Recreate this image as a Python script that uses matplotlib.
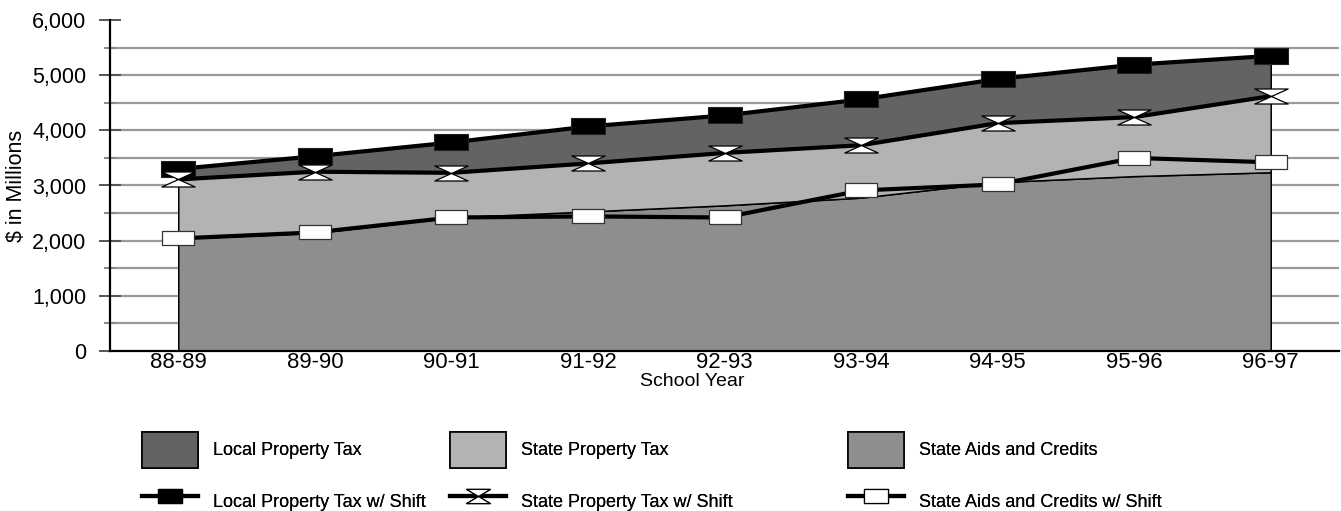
import matplotlib
matplotlib.use("Agg")
import matplotlib.pyplot as plt
from matplotlib.lines import Line2D
from matplotlib.patches import Patch
from matplotlib.path import Path
from matplotlib.ticker import FuncFormatter, MultipleLocator

years = ["88-89", "89-90", "90-91", "91-92", "92-93", "93-94", "94-95", "95-96", "96-97"]

# stacked components ($ millions)
state_aids = [2040, 2140, 2420, 2530, 2640, 2780, 3060, 3170, 3240]
state_prop = [1070, 1110, 810, 870, 950, 950, 1070, 1070, 1380]
local_prop = [190, 280, 550, 670, 680, 830, 800, 950, 730]

# cumulative totals with shift
local_shift = [3300, 3530, 3780, 4070, 4270, 4560, 4930, 5190, 5350]
state_shift = [3110, 3250, 3230, 3400, 3590, 3730, 4130, 4240, 4620]
aids_shift = [2040, 2150, 2420, 2440, 2420, 2910, 3020, 3500, 3420]

plt.rcParams["font.family"] = ["Liberation Sans", "DejaVu Sans"]


def box(h):
    return Path([(-1, -h), (1, -h), (1, h), (-1, h), (-1, -h)],
                [Path.MOVETO, Path.LINETO, Path.LINETO, Path.LINETO, Path.CLOSEPOLY])


def hourglass(h):
    return Path([(-1, h), (1, h), (-1, -h), (1, -h), (-1, h)],
                [Path.MOVETO, Path.LINETO, Path.LINETO, Path.LINETO, Path.CLOSEPOLY])


c_local, c_state, c_aids = "#636363", "#b3b3b3", "#8e8e8e"

fig = plt.figure(figsize=(13.41, 5.11), dpi=100)
ax = fig.add_axes([110 / 1341, 1 - 351 / 511, 1229 / 1341, 331 / 511])

x = list(range(len(years)))
ax.set_xlim(-0.5, len(years) - 0.5)
ax.set_ylim(0, 6000)

for v in range(500, 6000, 500):
    ax.axhline(v, color="#9a9a9a", lw=1.6, zorder=0)

ax.stackplot(x, state_aids, state_prop, local_prop, colors=[c_aids, c_state, c_local],
             edgecolor="black", linewidth=1.1, zorder=2)

ax.plot(x, local_shift, color="black", lw=3, zorder=3, marker=box(0.45), markersize=24,
        markerfacecolor="black", markeredgecolor="#222222", markeredgewidth=0.8)
ax.plot(x, state_shift, color="black", lw=3, zorder=3, marker=hourglass(0.45), markersize=24,
        markerfacecolor="white", markeredgecolor="black", markeredgewidth=0.9)
ax.plot(x, aids_shift, color="black", lw=3, zorder=3, marker=box(0.45), markersize=23,
        markerfacecolor="white", markeredgecolor="#333333", markeredgewidth=0.9)

for side in ("top", "right"):
    ax.spines[side].set_visible(False)
ax.spines["left"].set_linewidth(1.6)
ax.spines["bottom"].set_linewidth(1.6)
ax.spines["bottom"].set_zorder(4)

ax.set_xticks(x)
ax.set_xticklabels(years)
ax.tick_params(axis="x", length=0, pad=1, labelsize=16)
ax.yaxis.set_major_locator(MultipleLocator(1000))
ax.yaxis.set_minor_locator(MultipleLocator(500))
ax.yaxis.set_major_formatter(FuncFormatter(lambda v, p: f"{int(v):,}"))
ax.tick_params(axis="y", which="major", direction="inout", length=16, width=1.4,
               color="#555555", pad=9, labelsize=15.5)
ax.tick_params(axis="y", which="minor", direction="inout", length=8, width=1.4, color="#888888")

ax.set_ylabel("$ in Millions", fontsize=15.5, labelpad=4)
ax.set_xlabel("School Year", fontsize=14)
ax.xaxis.set_label_coords(582 / 1229, -22 / 331)

series = [
    ("Local Property Tax", c_local, "black", box(0.6)),
    ("State Property Tax", c_state, "white", hourglass(0.6)),
    ("State Aids and Credits", c_aids, "white", box(0.6)),
]
col_left = [142, 450, 848]

leg_size = 13
fs = leg_size * 100 / 72
hh = (36 / fs - 0.245) / 0.65
for (name, fill, mfc, mk), left in zip(series, col_left):
    handles = [
        Patch(facecolor=fill, edgecolor="black", linewidth=1.2),
        Line2D([], [], color="black", lw=3, marker=mk, markersize=17, markerfacecolor=mfc,
               markeredgecolor="black", markeredgewidth=0.9),
    ]
    leg = fig.legend(handles, [name, name + " w/ Shift"], loc="upper left",
                     bbox_to_anchor=(left / 1341, 1 - 432 / 511), frameon=False, fontsize=leg_size,
                     handlelength=56 / fs, handleheight=hh, handletextpad=15 / fs,
                     labelspacing=16 / fs, borderpad=0, borderaxespad=0, numpoints=1)
    fig.add_artist(leg)

fig.savefig("out.png", dpi=100)
